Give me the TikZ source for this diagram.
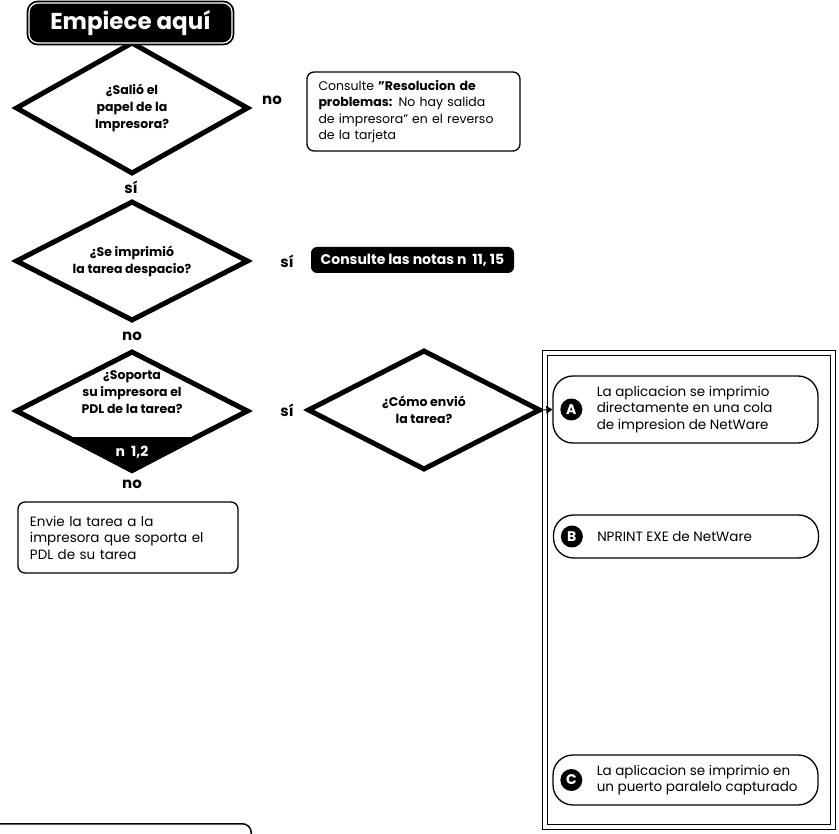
\documentclass[tikz,border=0pt]{standalone}
\usepackage{fontspec}
\setmainfont{Poppins}
\usetikzlibrary{arrows.meta, positioning, shapes.geometric}

\begin{document}
\begin{tikzpicture}[x=1pt, y=-1pt,
        startbox/.style={rectangle, draw=black, double=white, double distance=1.2pt, line width=1.8pt, fill=black, text=white, rounded corners=9pt, minimum width=203pt, minimum height=40pt, font=\bfseries\fontsize{23}{26}\selectfont},
        decision/.style={diamond, draw, line width=5pt, aspect=2.5, minimum width=233pt, minimum height=120pt, inner sep=0pt, align=center, font=\bfseries\fontsize{12.5}{17}\selectfont},
        qtext/.style={align=center, inner sep=0pt, font=\bfseries\fontsize{12.5}{17}\selectfont},
        note/.style={rectangle, draw, line width=1.3pt, rounded corners=7pt, align=left, inner ysep=0pt, font=\fontsize{12.5}{16.5}\selectfont},
        blacknote/.style={rectangle, fill=black, text=white, rounded corners=6pt, minimum width=203pt, minimum height=26pt, font=\bfseries\fontsize{14}{16}\selectfont},
        answer/.style={inner sep=1pt, font=\bfseries\fontsize{15}{17}\selectfont},
        optbox/.style={rectangle, draw, line width=1.3pt, rounded corners=20pt, minimum width=265pt},
        badge/.style={circle, fill=black, text=white, minimum size=22pt, inner sep=0pt, font=\bfseries\fontsize{14}{14}\selectfont},
        opttext/.style={align=left, inner sep=0pt, font=\fontsize{13.5}{16.5}\selectfont},
        arrow/.style={-{Triangle[length=6pt, width=8pt]}, line width=1pt}
    ]
    \useasboundingbox (0,0) rectangle (839,834);

    % columna izquierda
    \node[decision, minimum height=132pt] (salio) at (132,108) {¿Salió el\\papel de la\\Impresora?};
    \node[startbox] (start) at (130.5,23) {Empiece aquí};
    \node[decision] (despacio) at (132,261) {¿Se imprimió\\la tarea despacio?};
    \node[decision] (pdl) at (132,411) {};
    \begin{scope}
        \clip (pdl.north) -- (pdl.east) -- (pdl.south) -- (pdl.west) -- cycle;
        \fill (0,437) rectangle (260,480);
    \end{scope}
    \node[qtext] (pdltext) at ([yshift=19pt]pdl.center) {¿Soporta\\su impresora el\\PDL de la tarea?};
    \node[qtext, text=white, font=\bfseries\fontsize{14}{16}\selectfont] (notas12) at (132,452) {n\ \ 1,2};

    % respuestas
    \node[answer] (no1) at (272,100) {no};
    \node[answer] (si1) at (131,187) {sí};
    \node[answer] (si2) at (287,261) {sí};
    \node[answer] (no2) at (132,336) {no};
    \node[answer] (si3) at (287,410) {sí};
    \node[answer] (no3) at (132,484) {no};

    % notas
    \node[note, text width=190pt, inner xsep=11.5pt, minimum height=79pt] (resol) at (413.5,111.5)
        {Consulte \textbf{"Resolucion de\\problemas:} No hay salida\\de impresora" en el reverso\\de la tarjeta};
    \node[blacknote] (notas) at (412.5,260) {Consulte las notas n\ \ 11, 15};
    \node[note, text width=196pt, inner xsep=12pt, minimum height=71pt, font=\fontsize{13.5}{16.5}\selectfont] (envie) at (128,537.5)
        {Envie la tarea a la\\impresora que soporta el\\PDL de su tarea};

    % como se envio
    \node[decision] (como) at (424,410) {¿Cómo envió\\la tarea?};
    \node[draw, double, double distance=3.5pt, line width=1.2pt, minimum width=288pt, minimum height=474pt] (frame) at (689,590) {};

    \node[optbox, minimum height=67pt] (optA) at (685.5,409.5) {};
    \node[badge] (badgeA) at ([xshift=19pt]optA.west) {A};
    \node[opttext, right=14pt of badgeA] (txtA) {La aplicacion se imprimio\\directamente en una cola\\de impresion de NetWare};

    \node[optbox, minimum height=43pt] (optB) at (686,536.5) {};
    \node[badge] (badgeB) at ([xshift=19pt]optB.west) {B};
    \node[opttext, right=14pt of badgeB] (txtB) {NPRINT EXE de NetWare};

    \node[optbox, minimum height=50pt] (optC) at (685.5,780) {};
    \node[badge] (badgeC) at ([xshift=19pt]optC.west) {C};
    \node[opttext, right=14pt of badgeC] (txtC) {La aplicacion se imprimio en\\un puerto paralelo capturado};

    \draw[arrow] (como.east) -- (optA.west);

    % recuadro siguiente (cortado)
    \node[draw, line width=1.5pt, rounded corners=9pt, minimum width=270pt, minimum height=40pt, anchor=north east] (siguiente) at (252,823) {};

\end{tikzpicture}
\end{document}
